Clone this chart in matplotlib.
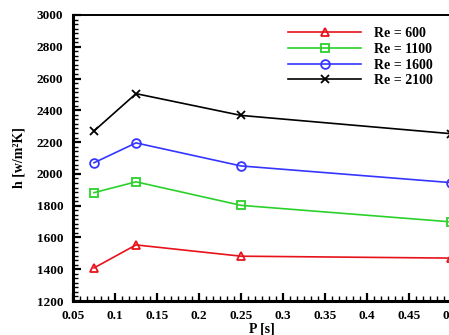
import matplotlib
matplotlib.use("Agg")
import matplotlib.pyplot as plt
from matplotlib.ticker import AutoMinorLocator, MultipleLocator

# data
period = [0.075, 0.125, 0.25, 0.5]
h_re600 = [1408, 1553, 1482, 1470]
h_re1100 = [1882, 1950, 1802, 1698]
h_re1600 = [2070, 2195, 2050, 1945]
h_re2100 = [2270, 2505, 2368, 2253]

series = [
    ("Re = 600", h_re600, "#e8121b", "^", 6.0),
    ("Re = 1100", h_re1100, "#2bd12b", "s", 5.3),
    ("Re = 1600", h_re1600, "#3535ff", "o", 6.3),
    ("Re = 2100", h_re2100, "black", "x", 5.5),
]

plt.rcParams["font.family"] = "Liberation Serif"
plt.rcParams["font.weight"] = "bold"

W, H = 449, 335
fig = plt.figure(figsize=(W / 100, H / 100), dpi=100)
ax = fig.add_axes([73 / W, 1 - 301 / H, 378 / W, 286 / H])

for label, vals, col, mk, ms in series:
    ax.plot(period, vals, color=col, lw=1.2, marker=mk, ms=ms,
            mfc="none", mec=col, mew=1.3, label=label, clip_on=False, zorder=3)

ax.set_xlim(0.05, 0.5)
ax.set_ylim(1200, 3000)
ax.yaxis.set_major_locator(MultipleLocator(200))
ax.set_xticks([0.05, 0.1, 0.15, 0.2, 0.25, 0.3, 0.35, 0.4, 0.45, 0.5])
ax.set_xticklabels(["0.05", "0.1", "0.15", "0.2", "0.25", "0.3", "0.35", "0.4", "0.45", "0.5"])
ax.xaxis.set_minor_locator(AutoMinorLocator(6))
ax.yaxis.set_minor_locator(AutoMinorLocator(7))

ax.tick_params(which="major", direction="in", length=6, width=1.6, labelsize=9.5,
               top=False, right=False)
ax.tick_params(axis="y", which="major", pad=7)
ax.tick_params(axis="x", which="major", pad=6.5)
ax.tick_params(which="minor", direction="in", length=3.5, width=1.0, top=False, right=False)
for lbl in ax.get_xticklabels() + ax.get_yticklabels():
    lbl.set_fontweight("bold")

ax.spines["left"].set_linewidth(2.2)
ax.spines["bottom"].set_linewidth(2.2)
ax.spines["top"].set_linewidth(1.4)
ax.spines["right"].set_linewidth(1.4)

ax.set_xlabel("P [s]", fontsize=10, fontweight="bold", labelpad=0)
ax.set_ylabel("h [w/m²K]", fontsize=10, fontweight="bold", labelpad=8)

ax.legend(loc="upper left", bbox_to_anchor=(288 / W, 1 - 27 / H),
          bbox_transform=fig.transFigure, frameon=False, borderpad=0,
          borderaxespad=0, handlelength=5.26, handletextpad=0.95,
          labelspacing=0.2, prop={"size": 10, "weight": "bold"})

fig.savefig("out.png", dpi=100)
